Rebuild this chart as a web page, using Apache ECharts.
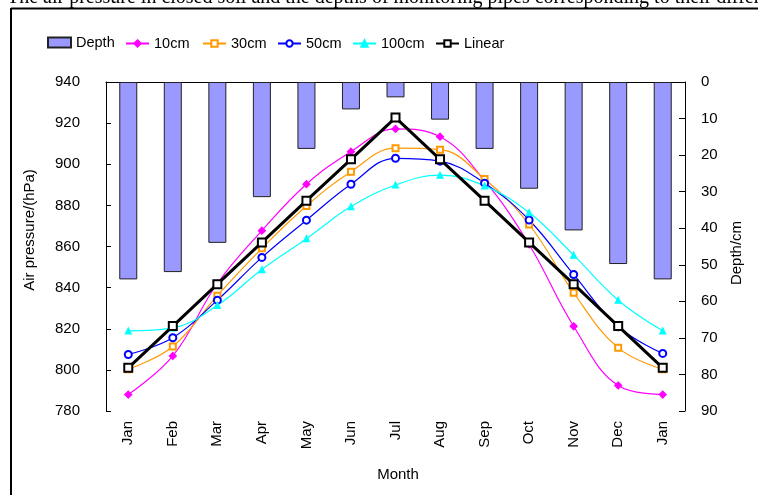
<!DOCTYPE html>
<html><head><meta charset="utf-8">
<script src="https://cdn.jsdelivr.net/npm/echarts@6/dist/echarts.min.js"></script>
<style>html,body{margin:0;padding:0;background:#fff}#c{width:758px;height:495px}</style>
</head><body><div id="c"></div>
<script>
var months = ['Jan','Feb','Mar','Apr','May','Jun','Jul','Aug','Sep','Oct','Nov','Dec','Jan'];
var depth = [54, 52, 44, 31.5, 18.3, 7.5, 4.2, 10.3, 18.3, 29.2, 40.6, 49.8, 54];
var p10 = [788, 806.8, 842, 867.7, 890.3, 906.1, 917.2, 913.4, 892, 861, 821.2, 792.4, 788];
var p30 = [800.3, 811.4, 836.1, 859.1, 879.7, 896.4, 907.8, 907.1, 892.8, 870.7, 837.5, 810.7, 800.3];
var p50 = [807.5, 815.6, 833.9, 854.7, 872.8, 890.3, 902.9, 901.5, 890.8, 872.9, 846.4, 821, 808];
var p100 = [819, 820.4, 831.4, 848.8, 863.8, 879.4, 889.9, 894.7, 889.5, 876.5, 855.8, 833.9, 819];
var linear = [801, 821.3, 841.7, 862, 882.3, 902.4, 922.7, 902.4, 882.3, 862, 841.7, 821.3, 801];
var leftTicks = {min: 780, max: 940, interval: 20};
var rightTicks = {min: 0, max: 90, interval: 10};

var font = 'Liberation Sans, Arial, sans-serif';
var chart = echarts.init(document.getElementById('c'), null, {renderer: 'canvas'});
function lineSeries(name, data, color, symbol, size) {
  return {
    name: name, type: 'line', data: data, yAxisIndex: 0,
    smooth: 0.4, symbol: symbol, symbolSize: size,
    lineStyle: {color: color, width: 1.2},
    itemStyle: {color: color, borderColor: color, borderWidth: 1.2},
    emphasis: {disabled: true}
  };
}
function leg(name, x, h, icon) {
  var l = {data: [name], left: x, top: 40 - h / 2, padding: 0, itemWidth: 23, itemHeight: h, itemGap: 0,
    textStyle: {fontFamily: font, fontSize: 14.5, color: '#000'}, selectedMode: false};
  if (icon) l.icon = icon;
  return l;
}
chart.setOption({
  animation: false,
  legend: [leg('Depth', 47, 10, 'rect'), leg('10cm', 125, 8), leg('30cm', 202, 8), leg('50cm', 277, 8), leg('100cm', 352, 8), leg('Linear', 435, 8)],
  grid: {left: 106, right: 73, top: 82, bottom: 84},
  xAxis: {
    type: 'category', data: months, boundaryGap: true,
    axisLine: {lineStyle: {color: '#000', width: 1}},
    axisTick: {inside: true, length: 6, alignWithLabel: false, lineStyle: {color: '#000'}},
    axisLabel: {rotate: 90, margin: 10, fontFamily: font, fontSize: 15, color: '#000', interval: 0}
  },
  yAxis: [{
    type: 'value', min: leftTicks.min, max: leftTicks.max, interval: leftTicks.interval,
    axisLine: {show: true, lineStyle: {color: '#000', width: 1}},
    axisTick: {show: true, inside: true, length: 5, lineStyle: {color: '#000'}},
    axisLabel: {margin: 26, fontFamily: font, fontSize: 15, color: '#000'},
    splitLine: {show: false}
  }, {
    type: 'value', min: rightTicks.min, max: rightTicks.max, interval: rightTicks.interval, inverse: true,
    position: 'right',
    axisLine: {show: true, lineStyle: {color: '#000', width: 1}},
    axisTick: {show: true, inside: true, length: 6, lineStyle: {color: '#000'}},
    axisLabel: {margin: 16, fontFamily: font, fontSize: 15, color: '#000'},
    splitLine: {show: false}
  }],
  series: [
    {name: 'Depth', type: 'bar', data: depth, yAxisIndex: 1, barWidth: 18,
     itemStyle: {color: '#9999FF', borderColor: '#222', borderWidth: 1}, emphasis: {disabled: true}},
    lineSeries('10cm', p10, '#FF00FF', 'diamond', 7),
    lineSeries('30cm', p30, '#FF9900', 'emptyRect', 6),
    lineSeries('50cm', p50, '#0000FF', 'emptyCircle', 7),
    lineSeries('100cm', p100, '#00FFFF', 'triangle', 6),
    {name: 'Linear', type: 'line', data: linear, yAxisIndex: 0, smooth: false,
     symbol: 'emptyRect', symbolSize: 8,
     lineStyle: {color: '#000', width: 3},
     itemStyle: {color: '#000', borderColor: '#000', borderWidth: 2.2},
     emphasis: {disabled: true}, z: 5}
  ],
  graphic: [
    {type: 'line', shape: {x1: 11, y1: 8.5, x2: 758, y2: 8.5}, style: {stroke: '#000', lineWidth: 2}},
    {type: 'line', shape: {x1: 11, y1: 8, x2: 11, y2: 495}, style: {stroke: '#000', lineWidth: 2}},
    {type: 'text', x: 7, y: -2.5, style: {text: 'The air pressure in closed soil and the depths of monitoring pipes corresponding to their different', font: '20px "Liberation Serif", "Times New Roman", serif', fill: '#000', verticalAlign: 'middle'}},
    {type: 'text', x: 30, y: 230, rotation: Math.PI / 2, style: {text: 'Air pressure/(hPa)', font: '15px ' + font, fill: '#000', align: 'center', verticalAlign: 'middle'}},
    {type: 'text', x: 737, y: 253, rotation: Math.PI / 2, style: {text: 'Depth/cm', font: '15px ' + font, fill: '#000', align: 'center', verticalAlign: 'middle'}},
    {type: 'text', x: 398, y: 475, style: {text: 'Month', font: '15px ' + font, fill: '#000', align: 'center', verticalAlign: 'middle'}}
  ]
});
</script></body></html>
